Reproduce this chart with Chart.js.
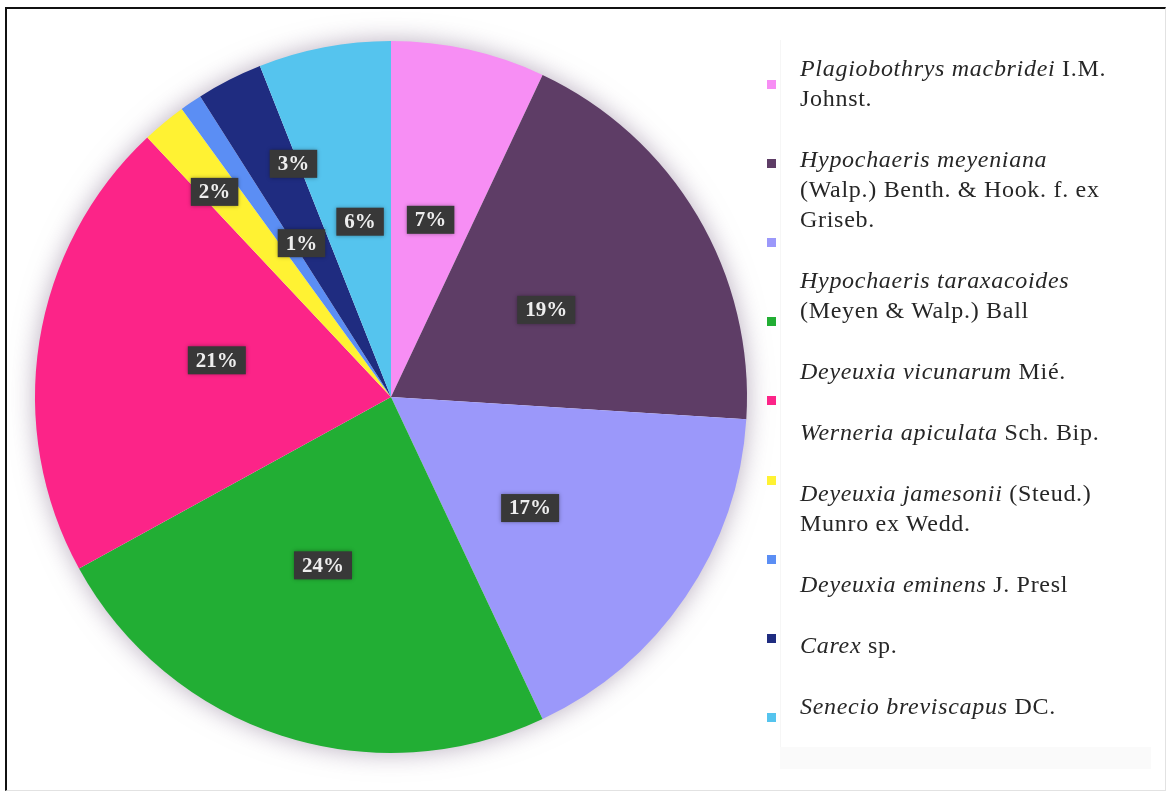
<!DOCTYPE html>
<html>
<head>
<meta charset="utf-8">
<script src="https://cdn.jsdelivr.net/npm/chart.js@4.4.1/dist/chart.umd.min.js"></script>
<style>
  html, body { margin: 0; padding: 0; background: #fff; }
  #wrap { position: relative; width: 1166px; height: 794px; overflow: hidden; }
  #frame { position: absolute; left: 5px; top: 7px; width: 1158px; height: 781px;
    border-top: 2px solid #111; border-left: 2px solid #111;
    border-right: 1px solid #e2e2e2; border-bottom: 1px solid #e2e2e2; }
  #graphique { position: absolute; left: 0; top: 0; }
  #legend-box { position: absolute; left: 780px; top: 40px; width: 370px; height: 707px;
    background: #fff; box-shadow: 0 22px 0 rgba(0,0,0,0.02); border-left: 1px solid #f6f6f6; }
  #legend-marks { position: absolute; left: 767px; top: 0; }
  #legend-marks span { position: absolute; left: 0; width: 9px; height: 9px; }
  #legend-text { position: absolute; left: 800px; top: 53px; width: 362px;
    font-family: "Liberation Serif", "Times New Roman", serif; font-size: 24px;
    letter-spacing: 0.7px; line-height: 30px; color: #262626; }
  #legend-text div { white-space: pre-line; margin-bottom: 31px; }
  #legend-text i { font-style: italic; }
</style>
</head>
<body>
<div id="wrap">
  <div id="frame"></div>
  <div id="legend-box"></div>
  <canvas id="graphique" width="1166" height="794"></canvas>
  <div id="legend-marks"></div>
  <div id="legend-text"></div>
</div>
<script>
// especes (partie en italique) et auteurs
const especes = [
  'Plagiobothrys macbridei',
  'Hypochaeris meyeniana',
  'Hypochaeris taraxacoides',
  'Deyeuxia vicunarum',
  'Werneria apiculata',
  'Deyeuxia jamesonii',
  'Deyeuxia eminens',
  'Carex',
  'Senecio breviscapus'
];
const auteurs = [
  ' I.M.\nJohnst.',
  '\n(Walp.) Benth.  & Hook. f. ex\nGriseb.',
  '\n(Meyen & Walp.) Ball',
  ' Mié.',
  ' Sch. Bip.',
  ' (Steud.)\nMunro ex Wedd.',
  ' J. Presl',
  ' sp.',
  ' DC.'
];
// pourcentages
const pourcentages = [7, 19, 17, 24, 21, 2, 1, 3, 6];
const couleurs = ['#f78ef4', '#5e3d66', '#9b98fa', '#22ae34', '#fc2488',
                  '#fff233', '#5b8ef4', '#1f2c80', '#55c4ee'];

// placement des etiquettes : fraction du rayon et decalage en degres
const etiquetteRayon = [0.51, 0.50, 0.50, 0.51, 0.50, 0.76, 0.50, 0.71, 0.50];
const etiquetteDecalage = [0, 1.3, 4.4, 4, 2.9, -1.1, 4, 4.3, 0.8];

//legende
const marks = document.getElementById('legend-marks');
const texte = document.getElementById('legend-text');
especes.forEach((nom, i) => {
  const m = document.createElement('span');
  m.style.top = (80 + i * 79.1) + 'px';
  m.style.background = couleurs[i];
  marks.appendChild(m);

  const d = document.createElement('div');
  const it = document.createElement('i');
  it.textContent = nom;
  d.appendChild(it);
  d.appendChild(document.createTextNode(auteurs[i]));
  texte.appendChild(d);
});

// halo autour du camembert
const ombre = {
  id: 'ombre',
  beforeDatasetsDraw(chart) {
    const arc = chart.getDatasetMeta(0).data[0];
    if (!arc) return;
    const ctx = chart.ctx;
    ctx.save();
    ctx.shadowColor = 'rgba(130,110,140,0.6)';
    ctx.shadowBlur = 26;
    ctx.fillStyle = '#fff';
    ctx.beginPath();
    ctx.arc(arc.x, arc.y, arc.outerRadius - 1, 0, Math.PI * 2);
    ctx.fill();
    ctx.restore();
  }
};

// etiquettes sombres avec le pourcentage
const etiquettes = {
  id: 'etiquettes',
  afterDatasetsDraw(chart) {
    const ctx = chart.ctx;
    const meta = chart.getDatasetMeta(0);
    ctx.save();
    ctx.font = 'bold 21px "Liberation Serif", serif';
    ctx.textAlign = 'center';
    ctx.textBaseline = 'middle';
    meta.data.forEach((arc, i) => {
      const a = (arc.startAngle + arc.endAngle) / 2 + etiquetteDecalage[i] * Math.PI / 180;
      const r = arc.outerRadius * etiquetteRayon[i];
      const x = arc.x + Math.cos(a) * r;
      const y = arc.y + Math.sin(a) * r;
      const txt = pourcentages[i] + '%';
      const w = ctx.measureText(txt).width + 16;
      const h = 28;
      ctx.shadowColor = 'rgba(0,0,0,0.35)';
      ctx.shadowBlur = 4;
      ctx.fillStyle = '#383838';
      ctx.fillRect(x - w / 2, y - h / 2, w, h);
      ctx.shadowBlur = 0;
      ctx.fillStyle = '#eeeeee';
      ctx.fillText(txt, x, y + 1);
    });
    ctx.restore();
  }
};

const graph = document.getElementById('graphique');
new Chart(graph, {
  type: 'pie',
  data: {
    labels: especes,
    datasets: [{
      data: pourcentages,
      backgroundColor: couleurs,
      borderWidth: 0
    }]
  },
  options: {
    responsive: false,
    devicePixelRatio: 1,
    animation: false,
    layout: { padding: { left: 35, top: 41, right: 419, bottom: 41 } },
    plugins: {
      legend: { display: false },
      tooltip: { enabled: false }
    }
  },
  plugins: [ombre, etiquettes]
});
</script>
</body>
</html>
